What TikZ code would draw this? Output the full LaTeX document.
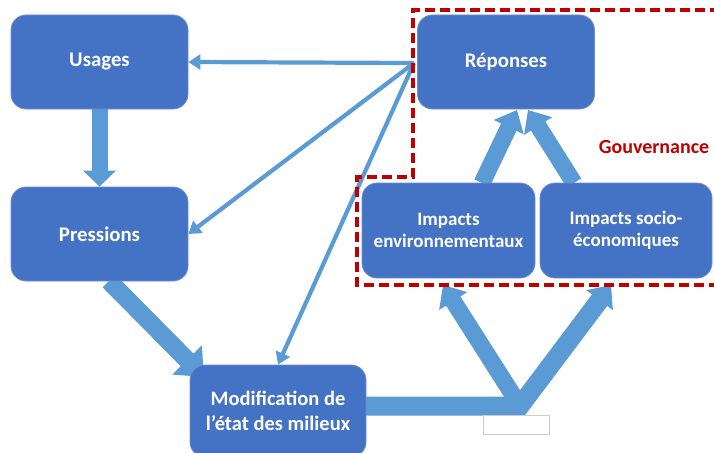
\documentclass[tikz,border=0pt]{standalone}
\usepackage{fontspec}
\setmainfont{Carlito}
\usetikzlibrary{arrows.meta,calc}
\definecolor{boxblue}{HTML}{4472C4}
\definecolor{boxedge}{HTML}{6E8FD2}
\definecolor{flowblue}{HTML}{5B9BD5}
\definecolor{govred}{HTML}{C00000}
\pgfdeclarelayer{background}
\pgfsetlayers{background,main}
\tikzset{
  stage/.style={rectangle, rounded corners=15pt, fill=boxblue, draw=boxedge, line width=0.8pt,
    text=white, font=\bfseries\fontsize{20.8}{24}\selectfont, align=center, inner sep=0pt},
  impact/.style={stage, font=\bfseries\fontsize{19}{21.5}\selectfont},
  feedback/.style={draw=flowblue, line width=4.2pt, -{Triangle[length=12pt,width=15pt]}},
  flow/.style={draw=flowblue, line width=16pt, -{Triangle[length=16pt,width=32pt]}},
  arm/.style={draw=flowblue, line width=17pt, line join=miter, -{Triangle[length=19pt,width=32pt]}},
  govline/.style={draw=govred, line width=3.4pt, dash pattern=on 10pt off 5pt},
}
\begin{document}
\begin{tikzpicture}[x=1pt, y=-1pt]
  \useasboundingbox (0,0) rectangle (714,452);
  \clip (0,0) rectangle (714,452);

  % stages of the chain
  \node[stage, minimum width=177pt, minimum height=94pt] (us) at (99.5,62) {Usages};
  \node[stage, minimum width=177pt, minimum height=94pt] (pr) at (99.5,234) {Pressions};
  \node[stage, minimum width=177pt, minimum height=94pt] (rep) at (506,62) {Réponses};
  \node[impact, minimum width=173pt, minimum height=95pt] (ienv) at (448.5,230.5) {Impacts\\environnementaux};
  \node[impact, minimum width=172pt, minimum height=95pt] (isoc) at (626,230.5) {Impacts socio-\\économiques};
  \node[stage, minimum width=176pt, minimum height=92pt, font=\bfseries\fontsize{20.5}{25}\selectfont] (mod) at (278,411) {Modification de\\l’état des milieux};

  \begin{pgfonlayer}{background}
    % feedback from responses
    \coordinate (hub) at (414,63);
    \draw[feedback] (hub) -- (us.east);
    \draw[feedback] (hub) -- (pr.east);
    \draw[feedback] (hub) -- (mod.north);

    % main chain
    \draw[flow] (us.south) -- (pr.north);
    \coordinate (prout) at (109,281);
    \coordinate (modin) at (204,377);
    \draw[draw=flowblue, line width=18pt, -{Triangle[length=24pt,width=40pt]}] (prout) -- (modin);

    % split towards the impacts
    \coordinate (modout) at (366,406);
    \coordinate (vtx) at (520,406);
    \coordinate (tipL) at (443,285);
    \coordinate (tipR) at (611,285);
    \draw[draw=flowblue, line width=19pt, line join=miter, -{Triangle[length=19pt,width=32pt]}] (modout) -- (vtx) -- (tipR);
    \draw[arm] (vtx) -- (tipL);

    % impacts feed the responses
    \coordinate (envout) at (482,183);
    \coordinate (socout) at (574,183);
    \coordinate (repinL) at (517,110);
    \coordinate (repinR) at (528,110);
    \draw[arm] (envout) -- (repinL);
    \draw[arm] (socout) -- (repinR);
  \end{pgfonlayer}

  % governance frame
  \draw[govline] (720,10) -- (413,10) -- (413,177) -- (357,177) -- (357,285) -- (720,285);
  \node[text=govred, font=\bfseries\fontsize{20}{23}\selectfont] (gov) at (654,147) {Gouvernance};

  % empty label box
  \draw[draw=black!20, fill=white, line width=0.6pt] (483,415) rectangle (549,434);
\end{tikzpicture}
\end{document}
